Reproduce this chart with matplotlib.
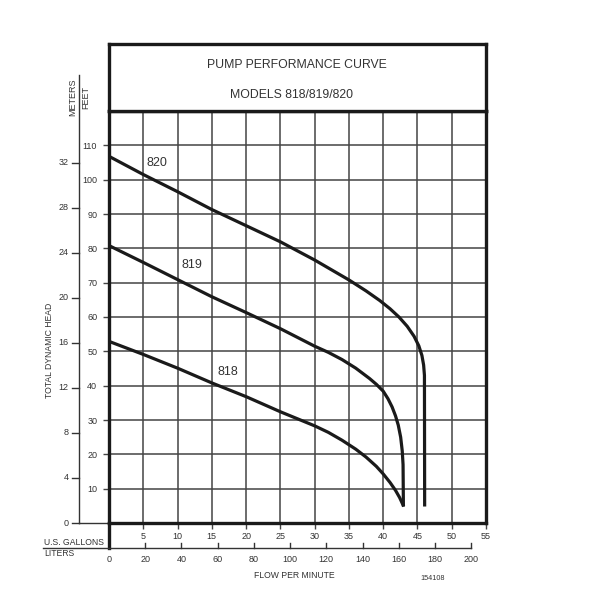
import matplotlib
matplotlib.use("Agg")
import matplotlib.pyplot as plt

plt.rcParams['font.family'] = ['Liberation Sans', 'DejaVu Sans']

# curves: flow in US gallons/min, head in feet
gal_820 = [0, 5, 10, 15, 20, 25, 30, 35, 37.5, 39.5, 41, 42.3, 43.5, 44.5, 45.2, 45.65, 45.9, 46.02, 46.05]
ft_820 = [106.8, 101.5, 96.5, 91.3, 86.6, 81.9, 76.6, 70.8, 67.6, 64.8, 62.4, 60, 57.3, 54.4, 51.6, 48.8, 46, 43, 4.8]

gal_819 = [0, 5, 10, 15, 20, 25, 30, 32, 34, 36, 38, 39, 40, 40.7, 41.3, 41.8, 42.2, 42.55, 42.78, 42.9, 42.95]
ft_819 = [80.8, 75.9, 70.9, 65.9, 61.3, 56.6, 51.5, 49.7, 47.6, 45.1, 42.1, 40.4, 38.4, 36.2, 33.8, 31.2, 28.5, 25, 21, 17, 4.8]

gal_818 = [0, 5, 10, 15, 20, 25, 30, 32, 34, 36, 37.5, 39, 40, 41, 41.8, 42.4, 43]
ft_818 = [52.9, 49.1, 45.1, 40.8, 36.8, 32.4, 28.3, 26.4, 24.1, 21.5, 19.2, 16.5, 14.3, 11.8, 9.5, 7.4, 4.8]

models = ["818", "819", "820"]
label_pos = [(17.3, 43.9), (12.1, 75.2), (7.0, 105.0)]

gal_ticks = [5, 10, 15, 20, 25, 30, 35, 40, 45, 50, 55]
ft_ticks = [10, 20, 30, 40, 50, 60, 70, 80, 90, 100, 110]
m_ticks = [0, 4, 8, 12, 16, 20, 24, 28, 32]
l_ticks = [0, 20, 40, 60, 80, 100, 120, 140, 160, 180, 200]

FT_PER_M = 3.28084
L_PER_GAL = 3.78541

W, H = 589, 607
fig = plt.figure(figsize=(W / 100, H / 100), dpi=100)
txt = '#333333'
ink = '#1a1a1a'
small = 6.5

# main grid axes
ax = fig.add_axes([109 / W, 1 - 523 / H, 377 / W, 412 / H])
ax.set_xlim(0, 55)
ax.set_ylim(0, 120)
ax.set_xticks(gal_ticks)
ax.set_yticks(ft_ticks)
ax.grid(True, color='#444444', lw=1.1)
ax.tick_params(axis='x', direction='out', length=4, width=1, color='#444444',
               labelsize=small, labelcolor=txt, pad=2.5)
ax.tick_params(axis='y', direction='out', length=4.5, width=1, color='#444444',
               labelsize=small, labelcolor=txt, pad=4)
for s in ax.spines.values():
    s.set_linewidth(2.4)
    s.set_color(ink)

for g, f in [(gal_818, ft_818), (gal_819, ft_819), (gal_820, ft_820)]:
    ax.plot(g, f, color=ink, lw=2.3, solid_capstyle='butt', solid_joinstyle='round')
for name, (x, y) in zip(models, label_pos):
    ax.text(x, y, name, fontsize=9, color=txt, ha='center', va='center')

# helpers for pixel -> data conversion of decorations
def gx(px):
    return (px - 109) / (377 / 55)

def fy(py):
    return (523 - py) / (412 / 120)

# meters axis
xm = gx(79)
ax.plot([xm, xm], [0, fy(75)], color='#333333', lw=1, clip_on=False)
ax.plot([xm, 0], [0, 0], color='#333333', lw=1, clip_on=False)
for m in m_ticks:
    ax.plot([gx(72), xm], [m * FT_PER_M] * 2, color='#333333', lw=1, clip_on=False)
    ax.text(gx(68.5), m * FT_PER_M, str(m), fontsize=small, color=txt,
            ha='right', va='center')
ax.text(gx(73), fy(97), "METERS", rotation=90, fontsize=6.5, color=txt,
        ha='center', va='center')
ax.text(gx(85.5), fy(97.5), "FEET", rotation=90, fontsize=6.5, color=txt,
        ha='center', va='center')
ax.text(gx(50), fy(350), "TOTAL DYNAMIC HEAD", rotation=90, fontsize=6.2,
        color=txt, ha='center', va='center')

# liters axis
yl = fy(547.7)
ax.plot([0, 0], [0, yl], color=ink, lw=2.4, clip_on=False)
ax.plot([gx(43), l_ticks[-1] / L_PER_GAL], [yl, yl], color='#333333', lw=1,
        clip_on=False)
for l in l_ticks[1:]:
    ax.plot([l / L_PER_GAL] * 2, [yl, fy(543)], color='#333333', lw=1, clip_on=False)
for l in l_ticks:
    ax.text(l / L_PER_GAL, fy(560), str(l), fontsize=small, color=txt,
            ha='center', va='center')
ax.text(gx(44), fy(542.5), "U.S. GALLONS", fontsize=6.2, color=txt, ha='left', va='center')
ax.text(gx(44), fy(553.5), "LITERS", fontsize=6.2, color=txt, ha='left', va='center')
ax.text(gx(294), fy(576), "FLOW PER MINUTE", fontsize=6.2, color=txt,
        ha='center', va='center')
ax.text(gx(433), fy(579), "154108", fontsize=5.2, color=txt, ha='center', va='center')

# title box
tb = fig.add_axes([109 / W, 1 - 111 / H, 377 / W, 67 / H])
tb.set_xticks([])
tb.set_yticks([])
for s in tb.spines.values():
    s.set_linewidth(2.4)
    s.set_color(ink)
tb.text(0.499, 0.687, "PUMP PERFORMANCE CURVE", fontsize=8.8, color=txt,
        ha='center', va='center', transform=tb.transAxes)
tb.text(0.483, 0.239, "MODELS 818/819/820", fontsize=8.8, color=txt,
        ha='center', va='center', transform=tb.transAxes)

fig.savefig("out.png", dpi=100)
